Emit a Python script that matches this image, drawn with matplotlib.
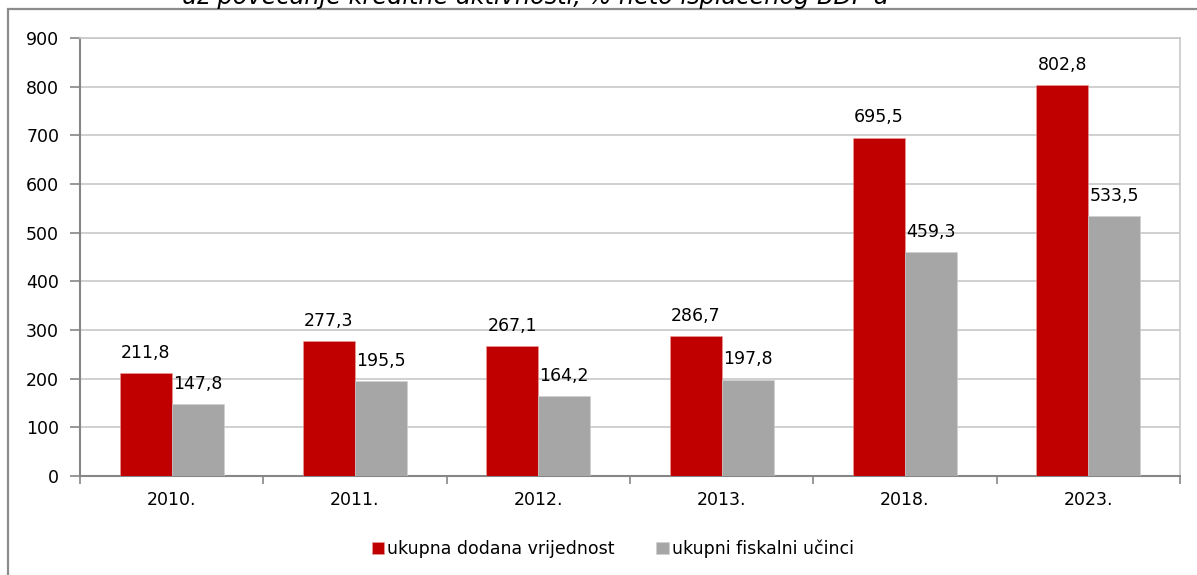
import numpy as np
import matplotlib
matplotlib.use("Agg")
import matplotlib.pyplot as plt
from matplotlib.patches import Rectangle

plt.rcParams['font.family'] = ['DejaVu Sans']

years = ['2010.', '2011.', '2012.', '2013.', '2018.', '2023.']
dodana = [211.8, 277.3, 267.1, 286.7, 695.5, 802.8]
fiskalni = [147.8, 195.5, 164.2, 197.8, 459.3, 533.5]
series_names = ['ukupna dodana vrijednost', 'ukupni fiskalni učinci']
title = 'uz povećanje kreditne aktivnosti, % neto isplaćenog BDP-a'

RED = '#C00000'
GREY = '#A6A6A6'
AXIS = '#868686'
GRID = '#C8C8C8'
FS = 12.5

fig = plt.figure(figsize=(11.97, 5.75), dpi=100)
ax = fig.add_axes([0.0668, 0.1722, 0.9190, 0.7617])

x = np.arange(len(years))
w = 0.284
b1 = ax.bar(x - w / 2, dodana, w, color=RED, edgecolor='#E8A0A0', linewidth=0.4,
            label=series_names[0], zorder=3)
b2 = ax.bar(x + w / 2, fiskalni, w, color=GREY, edgecolor='#D0D0D0', linewidth=0.4,
            label=series_names[1], zorder=3)

def fmt(v):
    return f'{v:.1f}'.replace('.', ',')

for rects, vals in ((b1, dodana), (b2, fiskalni)):
    for r, v in zip(rects, vals):
        ax.annotate(fmt(v), (r.get_x() + r.get_width() / 2, v),
                    xytext=(0, 11), textcoords='offset points',
                    ha='center', va='baseline', fontsize=FS, color='black')

ax.set_xlim(-0.5, len(years) - 0.5)
ax.set_ylim(0, 900)
ax.set_yticks(range(0, 901, 100))
ax.yaxis.grid(True, color=GRID, linewidth=1.2, zorder=0)
ax.set_axisbelow(True)

# category labels centred, tick marks between categories
ax.set_xticks(x)
ax.set_xticklabels(years, fontsize=FS)
ax.tick_params(axis='x', length=0, pad=11)
ax.set_xticks(np.arange(-0.5, len(years)), minor=True)
ax.tick_params(axis='x', which='minor', length=6, width=1.2, color=AXIS, direction='out')
ax.tick_params(axis='y', length=7, width=1.2, color=AXIS, labelsize=FS, pad=8)

for side in ('left', 'bottom'):
    ax.spines[side].set_color(AXIS)
    ax.spines[side].set_linewidth(1.5)
ax.spines['top'].set_color(GRID)
ax.spines['right'].set_color(GRID)
ax.spines['top'].set_linewidth(1.2)
ax.spines['right'].set_linewidth(1.2)

fig.legend(handles=[b1, b2], labels=series_names, loc='center',
           bbox_to_anchor=(0.512, 0.045), ncol=2, frameon=False, fontsize=FS,
           handlelength=0.7, handleheight=0.7, handletextpad=0.2, columnspacing=2.4)

# outer chart frame, cut off at the right and bottom
fig.patches.append(Rectangle((8 / 1197, -0.05), 1.2, 1 - 9 / 575 + 0.05,
                             transform=fig.transFigure, fill=False,
                             edgecolor='#8C8C8C', linewidth=1.6))

fig.text(0.447, 1 - 4 / 575, title, ha='center', va='baseline',
         fontsize=17.3, style='italic', color='black')

fig.savefig('out.png', dpi=100)
